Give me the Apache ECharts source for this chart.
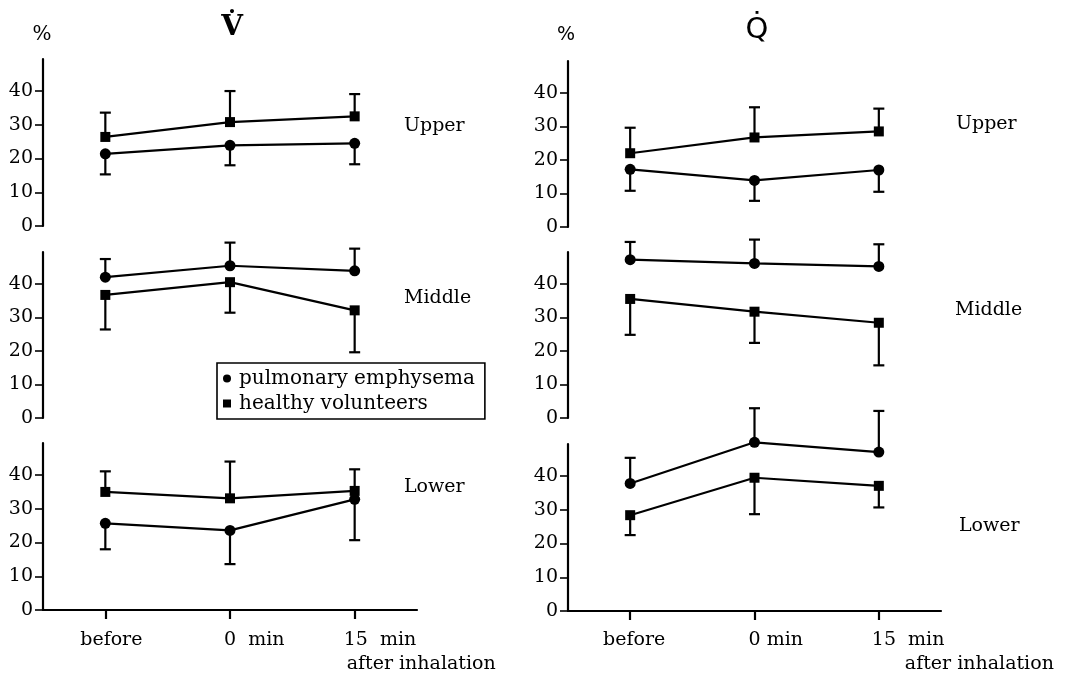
<!DOCTYPE html>
<html><head><meta charset="utf-8">
<script src="https://cdn.jsdelivr.net/npm/echarts@6/dist/echarts.min.js"></script>
<style>html,body{margin:0;padding:0;background:#fff}#c{width:1073px;height:677px}</style>
</head><body><div id="c"></div>
<script>
// ---- data ----
const categories = ['before', '0 min', '15 min'];
const leftTickLabels = ['before', '0  min', '15  min'];
const rightTickLabels = ['before', '0 min', '15  min'];
const yTickValues = [0, 10, 20, 30, 40];
const regionNames = ['Upper', 'Middle', 'Lower'];
const groupNames = ['pulmonary emphysema', 'healthy volunteers'];

// V-dot (ventilation) — means and signed SD (positive = bar drawn upward)
const vUpperEmph = [21.4, 23.9, 24.5];
const vUpperEmphSD = [-6.1, -5.9, -6.2];
const vUpperHealthy = [26.4, 30.8, 32.5];
const vUpperHealthySD = [7.2, 9.2, 6.6];
const vMiddleEmph = [42.0, 45.4, 43.9];
const vMiddleEmphSD = [5.4, 6.9, 6.6];
const vMiddleHealthy = [36.7, 40.5, 32.1];
const vMiddleHealthySD = [-10.3, -9.1, -12.5];
const vLowerEmph = [25.7, 23.6, 32.8];
const vLowerEmphSD = [-7.7, -10.0, -12.1];
const vLowerHealthy = [35.0, 33.1, 35.3];
const vLowerHealthySD = [6.1, 10.9, 6.4];

// Q-dot (perfusion)
const qUpperEmph = [17.2, 13.9, 17.0];
const qUpperEmphSD = [-6.4, -6.1, -6.5];
const qUpperHealthy = [22.0, 26.7, 28.5];
const qUpperHealthySD = [7.6, 9.0, 6.8];
const qMiddleEmph = [47.2, 46.1, 45.2];
const qMiddleEmphSD = [5.3, 7.1, 6.6];
const qMiddleHealthy = [35.5, 31.7, 28.4];
const qMiddleHealthySD = [-10.7, -9.3, -12.7];
const qLowerEmph = [37.8, 50.0, 47.1];
const qLowerEmphSD = [7.6, 10.1, 12.2];
const qLowerHealthy = [28.4, 39.5, 37.1];
const qLowerHealthySD = [-5.9, -10.8, -6.4];

// ---- layout ----
const SERIF = 'DejaVu Serif';
const SANS = 'DejaVu Sans';
const INK = '#000';
const grids = [
  {left: 43, width: 374, top: 59, height: 167},
  {left: 43, width: 374, top: 252, height: 166},
  {left: 43, width: 374, top: 443, height: 167},
  {left: 568, width: 373, top: 61, height: 166},
  {left: 568, width: 373, top: 252, height: 166},
  {left: 568, width: 373, top: 444, height: 167}
];
const panels = [
  [vUpperEmph, vUpperEmphSD, vUpperHealthy, vUpperHealthySD],
  [vMiddleEmph, vMiddleEmphSD, vMiddleHealthy, vMiddleHealthySD],
  [vLowerEmph, vLowerEmphSD, vLowerHealthy, vLowerHealthySD],
  [qUpperEmph, qUpperEmphSD, qUpperHealthy, qUpperHealthySD],
  [qMiddleEmph, qMiddleEmphSD, qMiddleHealthy, qMiddleHealthySD],
  [qLowerEmph, qLowerEmphSD, qLowerHealthy, qLowerHealthySD]
];

function errRender(params, api) {
  const x = api.value(0), m = api.value(1), e = api.value(2);
  const p0 = api.coord([x, m]);
  const p1 = api.coord([x, e]);
  const hw = 5.5;
  return {type: 'group', children: [
    {type: 'line', shape: {x1: p0[0], y1: p0[1], x2: p1[0], y2: p1[1]}, style: {stroke: INK, lineWidth: 2.2}},
    {type: 'line', shape: {x1: p1[0] - hw, y1: p1[1], x2: p1[0] + hw, y2: p1[1]}, style: {stroke: INK, lineWidth: 2.2}}
  ]};
}

const xAxes = [], yAxes = [], series = [];
grids.forEach((g, i) => {
  const isBottom = (i % 3) === 2;
  xAxes.push({
    type: 'category', gridIndex: i, data: categories, boundaryGap: true,
    show: isBottom,
    axisLine: {show: true, lineStyle: {color: INK, width: 2.2}},
    axisTick: {show: true, alignWithLabel: true, length: 9, lineStyle: {color: INK, width: 2.2}},
    axisLabel: {show: false},
    splitLine: {show: false}
  });
  yAxes.push({
    type: 'value', gridIndex: i, min: 0, max: 49.5,
    axisLine: {show: true, lineStyle: {color: INK, width: 2.2}},
    axisTick: {show: true, length: 8, customValues: yTickValues, lineStyle: {color: INK, width: 1.6}},
    axisLabel: {show: true, customValues: yTickValues, margin: 10, color: INK, fontFamily: SERIF, fontSize: 19},
    splitLine: {show: false}
  });
  const [em, emSD, he, heSD] = panels[i];
  series.push({
    type: 'custom', name: 'err-e-' + i, xAxisIndex: i, yAxisIndex: i, clip: false, z: 1,
    renderItem: errRender, encode: {x: 0, y: [1, 2]},
    data: em.map((v, k) => [k, v, +(v + emSD[k]).toFixed(2)])
  });
  series.push({
    type: 'custom', name: 'err-h-' + i, xAxisIndex: i, yAxisIndex: i, clip: false, z: 1,
    renderItem: errRender, encode: {x: 0, y: [1, 2]},
    data: he.map((v, k) => [k, v, +(v + heSD[k]).toFixed(2)])
  });
  series.push({
    type: 'line', name: groupNames[0], xAxisIndex: i, yAxisIndex: i, data: em, z: 3,
    symbol: 'circle', symbolSize: 11, showAllSymbol: true, clip: false,
    lineStyle: {color: INK, width: 2.2}, itemStyle: {color: INK}, animation: false
  });
  series.push({
    type: 'line', name: groupNames[1], xAxisIndex: i, yAxisIndex: i, data: he, z: 3,
    symbol: 'rect', symbolSize: 10, showAllSymbol: true, clip: false,
    lineStyle: {color: INK, width: 2.2}, itemStyle: {color: INK}, animation: false
  });
});

const txt = (x, y, text, size, family, align, weight) => ({
  type: 'text', x: x, y: y, z: 10,
  style: {text: text, fill: INK, fontSize: size, fontFamily: family || SERIF,
          fontWeight: weight || 'normal',
          textAlign: align || 'center', textVerticalAlign: 'middle'}
});

const baseGraphics = [
  txt(42, 35, '%', 20),
  txt(566, 35, '%', 19, SANS),
  txt(232, 28, 'V\u0307', 28, SERIF, 'center', 'bold'),
  txt(757, 30, 'Q\u0307', 29, SANS),
  txt(404, 126, regionNames[0], 19, SERIF, 'left'),
  txt(404, 298, regionNames[1], 19, SERIF, 'left'),
  txt(404, 487, regionNames[2], 19, SERIF, 'left'),
  txt(956, 124, regionNames[0], 19, SERIF, 'left'),
  txt(955, 310, regionNames[1], 19, SERIF, 'left'),
  txt(959, 526, regionNames[2], 19, SERIF, 'left')
];

const option = {
  animation: false,
  backgroundColor: '#fff',
  grid: grids,
  xAxis: xAxes,
  yAxis: yAxes,
  series: series,
  legend: {
    left: 217, top: 363, orient: 'vertical', selectedMode: false,
    data: [{name: groupNames[0], icon: 'circle'}, {name: groupNames[1], icon: 'rect'}],
    itemWidth: 8, itemHeight: 8, itemGap: 2,
    borderColor: INK, borderWidth: 1.6, borderRadius: 0,
    padding: [4, 10, 4, 6], backgroundColor: '#fff',
    textStyle: {fontFamily: SERIF, fontSize: 20, color: INK, lineHeight: 23, padding: [0, 0, 0, 3]}
  },
  graphic: baseGraphics
};

const chart = echarts.init(document.getElementById('c'), null, {renderer: 'canvas'});
chart.setOption(option);

// x tick labels placed at the category positions computed by the axes
const labelY = 640;
const leftOffsets = [{dx: 6, align: 'center'}, {dx: -6, align: 'left'}, {dx: -11, align: 'left'}];
const rightOffsets = [{dx: 4, align: 'center'}, {dx: -6, align: 'left'}, {dx: -7, align: 'left'}];
const extra = [];
categories.forEach((c, k) => {
  const xl = chart.convertToPixel({xAxisIndex: 2}, c);
  const xr = chart.convertToPixel({xAxisIndex: 5}, c);
  extra.push(txt(xl + leftOffsets[k].dx, labelY, leftTickLabels[k], 19, SERIF, leftOffsets[k].align));
  extra.push(txt(xr + rightOffsets[k].dx, labelY, rightTickLabels[k], 19, SERIF, rightOffsets[k].align));
});
const x15l = chart.convertToPixel({xAxisIndex: 2}, categories[2]);
const x15r = chart.convertToPixel({xAxisIndex: 5}, categories[2]);
extra.push(txt(x15l - 8, 664, 'after inhalation', 19, SERIF, 'left'));
extra.push(txt(x15r + 26, 664, 'after inhalation', 19, SERIF, 'left'));
chart.setOption({graphic: baseGraphics.concat(extra)});
</script>
</body></html>
